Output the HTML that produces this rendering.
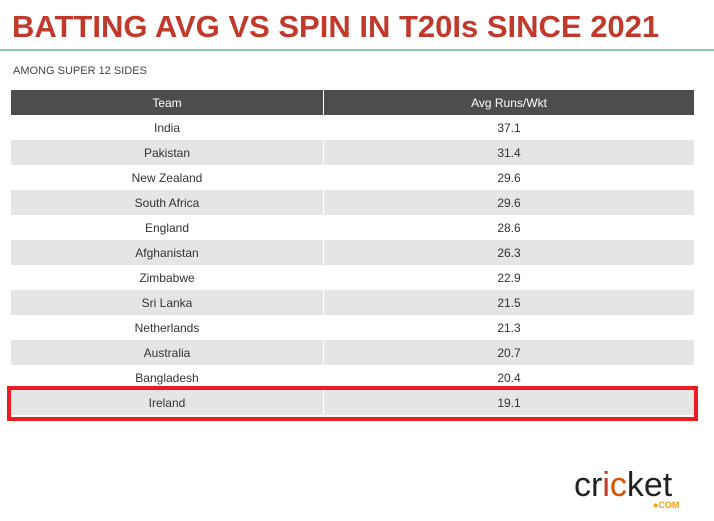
<!DOCTYPE html>
<html><head><style>
body{margin:0;width:714px;height:521px;background:#fff;position:relative;overflow:hidden;font-family:"Liberation Sans",sans-serif}
.t{position:absolute;left:12px;top:9px;font-size:31px;font-weight:bold;color:#c0392b}
.g{position:absolute;left:0;top:49px;width:714px;height:2px;background:#8fc7a8}
.s{position:absolute;left:13px;top:65px;font-size:11px;color:#444}
table{position:absolute;left:11px;top:90px;width:683px;border-collapse:collapse;font-size:12px;color:#333}
td,th{height:25px;padding:0;text-align:center;border-left:1px solid #fff}
td:first-child,th:first-child{width:312px;border-left:none}
th{background:#4d4d4d;color:#fff;font-weight:normal}
tr:nth-child(odd) td{background:#e5e5e5}
.r{position:absolute;left:7px;top:386px;width:683px;height:27px;border:4px solid #ed1c24}
</style></head><body>
<div class="t">BATTING AVG VS SPIN IN T20Is SINCE 2021</div>
<div class="g"></div>
<div class="s">AMONG SUPER 12 SIDES</div>
<table>
<tr><th>Team</th><th>Avg Runs/Wkt</th></tr>
<tr><td>India</td><td>37.1</td></tr>
<tr><td>Pakistan</td><td>31.4</td></tr>
<tr><td>New Zealand</td><td>29.6</td></tr>
<tr><td>South Africa</td><td>29.6</td></tr>
<tr><td>England</td><td>28.6</td></tr>
<tr><td>Afghanistan</td><td>26.3</td></tr>
<tr><td>Zimbabwe</td><td>22.9</td></tr>
<tr><td>Sri Lanka</td><td>21.5</td></tr>
<tr><td>Netherlands</td><td>21.3</td></tr>
<tr><td>Australia</td><td>20.7</td></tr>
<tr><td>Bangladesh</td><td>20.4</td></tr>
<tr><td>Ireland</td><td>19.1</td></tr>
</table>
<div class="r"></div>
<div style="position:absolute;left:574px;top:466px;font-size:34px;color:#222;letter-spacing:0px">cr<span style="color:#c0392b">i</span><span style="color:#d35400">c</span>ket</div>
<div style="position:absolute;left:653px;top:500px;font-size:9px;font-weight:bold;color:#f39c12">●COM</div>
</body></html>
